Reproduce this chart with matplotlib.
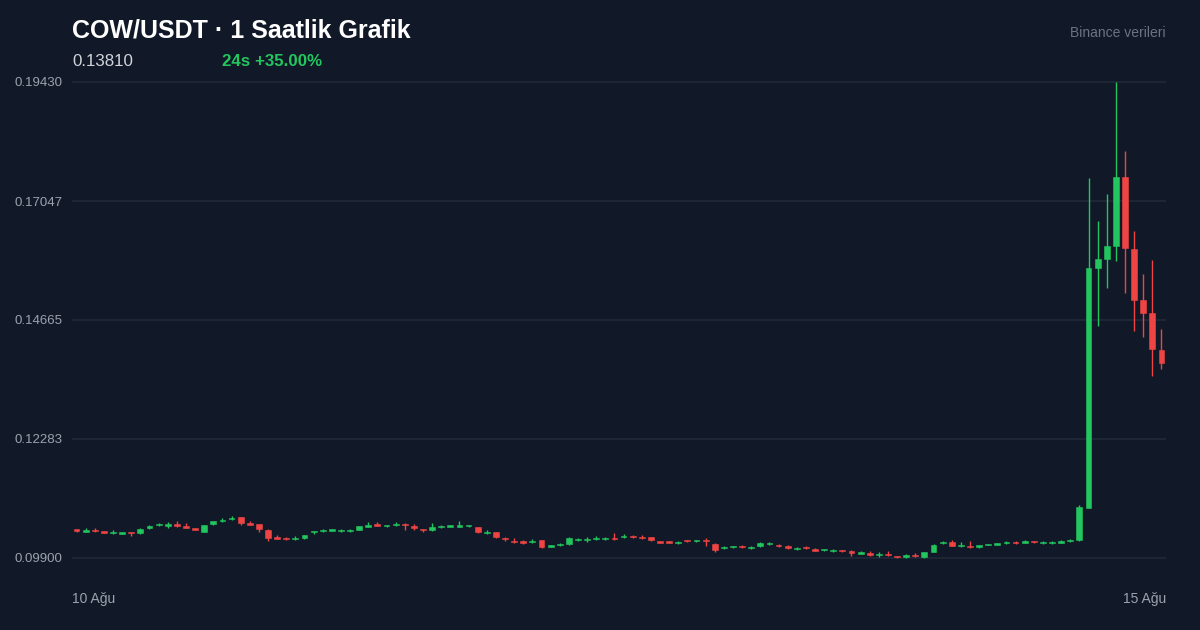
import matplotlib
matplotlib.use("Agg")
import matplotlib.pyplot as plt
import numpy as np

# 1h candles, 10 Aug -> 15 Aug (120 bars)
opens = [
    0.10464, 0.10430, 0.10456, 0.10424, 0.10396, 0.10390, 0.10416, 0.10400, 0.10494, 0.10552,
    0.10546, 0.10574, 0.10524, 0.10490, 0.10428, 0.10576, 0.10640, 0.10672, 0.10714, 0.10594,
    0.10574, 0.10460, 0.10310, 0.10296, 0.10276, 0.10292, 0.10412, 0.10432, 0.10446, 0.10440,
    0.10432, 0.10468, 0.10526, 0.10574, 0.10532, 0.10552, 0.10588, 0.10534, 0.10480, 0.10452,
    0.10520, 0.10526, 0.10526, 0.10532, 0.10514, 0.10400, 0.10412, 0.10300, 0.10240, 0.10234,
    0.10212, 0.10254, 0.10126, 0.10160, 0.10186, 0.10260, 0.10252, 0.10280, 0.10272, 0.10300,
    0.10320, 0.10340, 0.10328, 0.10320, 0.10224, 0.10224, 0.10200, 0.10260, 0.10232, 0.10260,
    0.10172, 0.10092, 0.10112, 0.10148, 0.10092, 0.10132, 0.10180, 0.10168, 0.10146, 0.10080,
    0.10120, 0.10074, 0.10052, 0.10040, 0.10060, 0.10046, 0.09986, 0.09994, 0.09952, 0.09980,
    0.09940, 0.09926, 0.09960, 0.09920, 0.10028, 0.10200, 0.10220, 0.10132, 0.10148, 0.10126,
    0.10156, 0.10170, 0.10200, 0.10220, 0.10206, 0.10240, 0.10200, 0.10200, 0.10206, 0.10240,
    0.10260, 0.10911, 0.15706, 0.15886, 0.16141, 0.17528, 0.16087, 0.15065, 0.14799, 0.14070,
]
highs = [
    0.10484, 0.10510, 0.10496, 0.10434, 0.10466, 0.10412, 0.10426, 0.10500, 0.10566, 0.10600,
    0.10624, 0.10634, 0.10594, 0.10500, 0.10570, 0.10646, 0.10698, 0.10740, 0.10724, 0.10634,
    0.10584, 0.10490, 0.10360, 0.10316, 0.10336, 0.10370, 0.10450, 0.10480, 0.10484, 0.10478,
    0.10480, 0.10550, 0.10614, 0.10624, 0.10570, 0.10620, 0.10598, 0.10574, 0.10490, 0.10600,
    0.10568, 0.10564, 0.10634, 0.10570, 0.10524, 0.10468, 0.10422, 0.10320, 0.10300, 0.10254,
    0.10280, 0.10264, 0.10164, 0.10208, 0.10316, 0.10298, 0.10320, 0.10348, 0.10320, 0.10400,
    0.10388, 0.10370, 0.10358, 0.10330, 0.10234, 0.10234, 0.10238, 0.10262, 0.10262, 0.10300,
    0.10202, 0.10140, 0.10150, 0.10168, 0.10140, 0.10220, 0.10218, 0.10178, 0.10156, 0.10118,
    0.10140, 0.10094, 0.10090, 0.10078, 0.10070, 0.10056, 0.10034, 0.10034, 0.10020, 0.10040,
    0.09950, 0.09986, 0.10000, 0.10030, 0.10180, 0.10248, 0.10260, 0.10220, 0.10248, 0.10164,
    0.10178, 0.10192, 0.10238, 0.10240, 0.10254, 0.10250, 0.10238, 0.10238, 0.10254, 0.10278,
    0.10961, 0.17502, 0.16647, 0.17182, 0.19430, 0.18043, 0.16441, 0.15586, 0.15860, 0.14485,
]
lows = [
    0.10424, 0.10420, 0.10426, 0.10394, 0.10386, 0.10388, 0.10336, 0.10390, 0.10484, 0.10542,
    0.10496, 0.10526, 0.10494, 0.10460, 0.10418, 0.10566, 0.10630, 0.10662, 0.10556, 0.10556,
    0.10424, 0.10242, 0.10280, 0.10266, 0.10266, 0.10272, 0.10372, 0.10422, 0.10436, 0.10430,
    0.10422, 0.10458, 0.10516, 0.10536, 0.10522, 0.10542, 0.10470, 0.10466, 0.10422, 0.10442,
    0.10510, 0.10516, 0.10516, 0.10522, 0.10404, 0.10390, 0.10300, 0.10242, 0.10202, 0.10176,
    0.10202, 0.10094, 0.10116, 0.10140, 0.10166, 0.10250, 0.10212, 0.10270, 0.10262, 0.10262,
    0.10310, 0.10302, 0.10290, 0.10240, 0.10194, 0.10194, 0.10190, 0.10230, 0.10230, 0.10132,
    0.10030, 0.10082, 0.10102, 0.10110, 0.10082, 0.10122, 0.10170, 0.10130, 0.10086, 0.10070,
    0.10082, 0.10036, 0.10042, 0.10030, 0.10022, 0.09946, 0.09976, 0.09936, 0.09922, 0.09942,
    0.09902, 0.09906, 0.09922, 0.09900, 0.10018, 0.10190, 0.10138, 0.10122, 0.10110, 0.10106,
    0.10154, 0.10168, 0.10190, 0.10182, 0.10196, 0.10192, 0.10190, 0.10190, 0.10196, 0.10230,
    0.10250, 0.10901, 0.14545, 0.15306, 0.15852, 0.15206, 0.14451, 0.14331, 0.13550, 0.13690,
]
closes = [
    0.10444, 0.10450, 0.10436, 0.10404, 0.10416, 0.10410, 0.10396, 0.10480, 0.10546, 0.10580,
    0.10574, 0.10546, 0.10504, 0.10470, 0.10560, 0.10636, 0.10668, 0.10700, 0.10606, 0.10566,
    0.10474, 0.10292, 0.10290, 0.10276, 0.10296, 0.10360, 0.10440, 0.10460, 0.10474, 0.10468,
    0.10460, 0.10540, 0.10554, 0.10546, 0.10560, 0.10580, 0.10560, 0.10506, 0.10452, 0.10520,
    0.10548, 0.10554, 0.10554, 0.10560, 0.10414, 0.10428, 0.10320, 0.10272, 0.10212, 0.10206,
    0.10240, 0.10114, 0.10154, 0.10188, 0.10306, 0.10288, 0.10280, 0.10308, 0.10300, 0.10272,
    0.10348, 0.10312, 0.10300, 0.10260, 0.10204, 0.10204, 0.10228, 0.10232, 0.10260, 0.10232,
    0.10060, 0.10120, 0.10140, 0.10120, 0.10120, 0.10200, 0.10208, 0.10140, 0.10106, 0.10108,
    0.10092, 0.10046, 0.10080, 0.10068, 0.10032, 0.10006, 0.10014, 0.09966, 0.09980, 0.09952,
    0.09912, 0.09966, 0.09932, 0.10020, 0.10160, 0.10228, 0.10148, 0.10160, 0.10120, 0.10154,
    0.10176, 0.10190, 0.10228, 0.10192, 0.10234, 0.10212, 0.10228, 0.10228, 0.10234, 0.10268,
    0.10915, 0.15706, 0.15886, 0.16141, 0.17522, 0.16112, 0.15071, 0.14811, 0.14084, 0.13810,
]

y_ticks = [0.09900, 0.12283, 0.14665, 0.17047, 0.19430]
title = "COW/USDT · 1 Saatlik Grafik"
last_price = "0.13810"
change_24h = "24s +35.00%"
source = "Binance verileri"
x_labels = ["10 Ağu", "15 Ağu"]

BG = "#111827"
GREEN = "#22c55e"
RED = "#ef4444"
GRID = "#1f2937"

plt.rcParams['font.family'] = ['Liberation Sans', 'DejaVu Sans']

o = np.array(opens)
h = np.array(highs)
l = np.array(lows)
c = np.array(closes)
x = np.arange(len(o))
colors = np.where(c >= o, GREEN, RED)

fig = plt.figure(figsize=(12, 6.3), dpi=100, facecolor=BG)
# plot area: x 72..1166 px, y 70..570 px
ax = fig.add_axes([72 / 1200, 60 / 630, 1094 / 1200, 500 / 630])
ax.set_facecolor(BG)

pad = 12 * (0.1943 - 0.0990) / 476
ax.set_ylim(0.0990 - pad, 0.1943 + pad)
ax.set_xlim(-0.5, len(o) - 0.5)

for yv in y_ticks:
    ax.axhline(yv, color=GRID, lw=1.2, zorder=0)

ax.vlines(x, l, h, colors=colors, lw=1.0, zorder=2)
body_bottom = np.minimum(o, c)
body_height = np.maximum(np.abs(c - o), 0.00028)
ax.bar(x, body_height, bottom=body_bottom, width=0.64, color=colors,
       edgecolor=colors, linewidth=0.4, zorder=3)

ax.set_yticks(y_ticks)
ax.set_yticklabels([f"{v:.5f}" for v in y_ticks])
ax.tick_params(axis='y', length=0, pad=7, labelsize=9.5, labelcolor="#9ca3af")
ax.set_xticks([])
for s in ax.spines.values():
    s.set_visible(False)

fig.text(72 / 1200, 1 - 30 / 630, title, color="white", fontsize=18,
         fontweight='bold', va='center', ha='left')
fig.text(72 / 1200, 1 - 61 / 630, last_price, color="#d1d5db", fontsize=12.2,
         va='center', ha='left')
fig.text(222 / 1200, 1 - 61 / 630, change_24h, color=GREEN, fontsize=12.2,
         fontweight='bold', va='center', ha='left')
fig.text(1166 / 1200, 1 - 33 / 630, source, color="#6b7280", fontsize=10,
         va='center', ha='right')
fig.text(72 / 1200, 1 - 599 / 630, x_labels[0], color="#9ca3af", fontsize=10,
         va='center', ha='left')
fig.text(1166 / 1200, 1 - 599 / 630, x_labels[1], color="#9ca3af", fontsize=10,
         va='center', ha='right')

fig.savefig("out.png", dpi=100, facecolor=BG)
